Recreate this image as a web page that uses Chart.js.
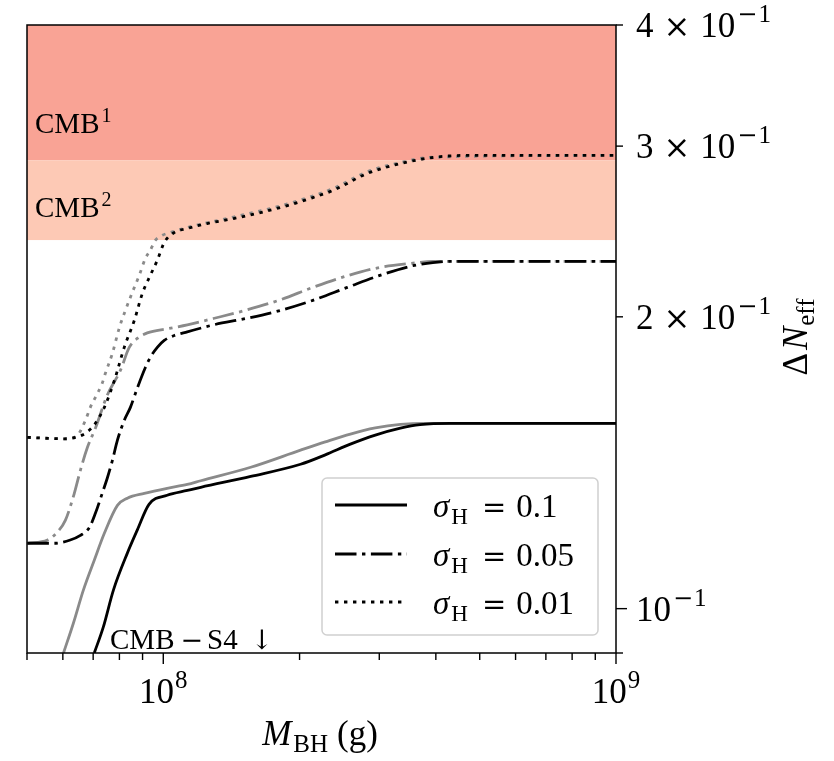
<!DOCTYPE html>
<html>
<head>
<meta charset="utf-8">
<script src="https://cdn.jsdelivr.net/npm/chart.js@4.4.0/dist/chart.umd.min.js"></script>
<style>
  html, body { margin: 0; padding: 0; background: #ffffff; }
  canvas { display: block; }
</style>
</head>
<body>
<canvas id="chart" width="834" height="761"></canvas>
<script>
// ΔN_eff as a function of the black-hole mass M_BH (grams), three widths σ_H.
// "dark" curves are drawn in black, "light" curves in gray.

// σ_H = 0.1 (solid)
const massSolidDark  = [7.04e7, 7.37e7, 7.76e7, 8.33e7, 8.76e7, 9.3e7, 1.02e8, 1.13e8, 1.21e8, 1.56e8, 2.01e8, 2.28e8, 2.59e8, 2.94e8, 3.34e8, 3.69e8, 4.3e8, 1e9];
const dNeffSolidDark = [0.0900, 0.0957, 0.1045, 0.1141, 0.1205, 0.1281, 0.1309, 0.1324, 0.1334, 0.1369, 0.1409, 0.1441, 0.1478, 0.1510, 0.1535, 0.1548, 0.1553, 0.1553];
const massSolidLight  = [6.02e7, 6.33e7, 6.66e7, 7.04e7, 7.41e7, 7.92e7, 8.33e7, 9.08e7, 1.02e8, 1.13e8, 1.21e8, 1.56e8, 2.01e8, 2.28e8, 2.59e8, 2.94e8, 3.34e8, 3.8e8, 1e9];
const dNeffSolidLight = [0.0900, 0.0966, 0.1045, 0.1122, 0.1196, 0.1278, 0.1300, 0.1315, 0.1331, 0.1343, 0.1355, 0.1399, 0.1457, 0.1486, 0.1514, 0.1536, 0.1549, 0.1553, 0.1553];

// σ_H = 0.05 (dash-dot)
const massDashDotDark  = [5.01e7, 5.74e7, 6.23e7, 6.56e7, 6.87e7, 7.08e7, 7.33e7, 7.52e7, 7.72e7, 7.92e7, 8.2e7, 8.46e7, 8.76e7, 9.13e7, 9.36e7, 9.7e7, 1.005e8, 1.057e8, 1.13e8, 1.29e8, 1.53e8, 1.81e8, 2.14e8, 2.55e8, 3.01e8, 3.56e8, 3.94e8, 4.4e8, 1e9];
const dNeffDashDotDark = [0.1168, 0.1168, 0.1177, 0.1190, 0.1213, 0.1254, 0.1315, 0.1363, 0.1422, 0.1492, 0.1564, 0.1613, 0.1688, 0.1773, 0.1816, 0.1860, 0.1891, 0.1913, 0.1930, 0.1962, 0.1993, 0.2030, 0.2080, 0.2145, 0.2207, 0.2258, 0.2275, 0.2282, 0.2282];
const massDashDotLight  = [5.01e7, 5.55e7, 5.83e7, 6.08e7, 6.36e7, 6.56e7, 6.8e7, 7.08e7, 7.52e7, 8.04e7, 8.41e7, 8.76e7, 9.22e7, 1.02e8, 1.13e8, 1.29e8, 1.53e8, 1.81e8, 2.14e8, 2.55e8, 3.01e8, 3.56e8, 3.94e8, 1e9];
const dNeffDashDotLight = [0.1168, 0.1177, 0.1199, 0.1234, 0.1315, 0.1389, 0.1467, 0.1535, 0.1660, 0.1761, 0.1860, 0.1900, 0.1925, 0.1944, 0.1962, 0.1992, 0.2033, 0.2082, 0.2145, 0.2205, 0.2249, 0.2272, 0.2282, 0.2282];

// σ_H = 0.01 (dotted)
const massDottedDark  = [5.01e7, 6.05e7, 6.62e7, 6.9e7, 7.08e7, 7.41e7, 7.8e7, 8.2e7, 8.63e7, 8.99e7, 9.36e7, 9.7e7, 1.005e8, 1.057e8, 1.13e8, 1.25e8, 1.43e8, 1.64e8, 1.88e8, 2.14e8, 2.37e8, 2.82e8, 3.34e8, 3.94e8, 4.69e8, 1e9];
const dNeffDottedDark = [0.1502, 0.1497, 0.1510, 0.1531, 0.1553, 0.1613, 0.1720, 0.1860, 0.1983, 0.2114, 0.2207, 0.2287, 0.2386, 0.2443, 0.2467, 0.2496, 0.2526, 0.2562, 0.2605, 0.2655, 0.2700, 0.2811, 0.2878, 0.2920, 0.2935, 0.2935];
const massDottedLight  = [5.01e7, 6.05e7, 6.46e7, 6.73e7, 6.9e7, 7.08e7, 7.33e7, 7.45e7, 7.72e7, 8.0e7, 8.25e7, 8.54e7, 8.85e7, 9.13e7, 9.36e7, 9.6e7, 9.95e7, 1.036e8, 1.13e8, 1.43e8, 1.88e8, 2.37e8, 2.82e8, 3.34e8, 3.94e8, 1e9];
const dNeffDottedLight = [0.1502, 0.1497, 0.1510, 0.1564, 0.1613, 0.1652, 0.1708, 0.1749, 0.1834, 0.1950, 0.2031, 0.2119, 0.2207, 0.2298, 0.2342, 0.2398, 0.2427, 0.2443, 0.2473, 0.2535, 0.2615, 0.2712, 0.2822, 0.2885, 0.2922, 0.2935];

// Excluded regions (ΔN_eff ranges)
const bandCMB1 = [0.29, 0.4];
const bandCMB2 = [0.24, 0.29];

// Axis ranges and ticks
const massRange = [5e7, 1e9];
const dNeffRange = [0.09, 0.4];
const xMajorTicks = [1e8, 1e9];
const xMajorExponents = ['8', '9'];
const xMinorTicks = [5e7, 6e7, 7e7, 8e7, 9e7, 2e8, 3e8, 4e8, 5e8, 6e8, 7e8, 8e8, 9e8];
const yTickValues = [0.4, 0.3, 0.2, 0.1];
const yTickMantissas = ['4', '3', '2', ''];
const yTickMajor = [false, false, false, true];
const yMinorUnlabeled = [0.09];

// Legend entries
const legendSigmas = ['0.1', '0.05', '0.01'];

const SERIF = '"Liberation Serif", "DejaVu Serif", serif';
const OPS = '"DejaVu Serif", "Liberation Serif", serif';   // wider math operators
const DARK = '#000000';
const LIGHT = '#8a8a8a';
const LW = 2.8;
const DASH_DOT = [21.5, 5.5, 3.4, 5.5];
const DOTTED = [3.4, 5.6];
const STYLES = [[], DASH_DOT, DOTTED];

function pts(xs, ys) { return xs.map((x, i) => ({ x: x, y: ys[i] })); }

function lineSet(label, xs, ys, color, dash) {
  return {
    label: label,
    data: pts(xs, ys),
    showLine: true,
    borderColor: color,
    backgroundColor: color,
    borderWidth: LW,
    borderDash: dash,
    borderCapStyle: 'butt',
    borderJoinStyle: 'round',
    pointRadius: 0,
    cubicInterpolationMode: 'monotone',
    fill: false,
    clip: 0
  };
}

function fontOf(p) {
  return (p.italic ? 'italic ' : '') + p.size + 'px ' + (p.family || SERIF);
}

// draws a sequence of text runs (for sub/superscripts) on one baseline;
// l / r add space before / after a run
function drawRich(ctx, parts, x, y, align) {
  ctx.textBaseline = 'alphabetic';
  ctx.textAlign = 'left';
  const widths = parts.map(p => { ctx.font = fontOf(p); return (p.l || 0) + ctx.measureText(p.t).width + (p.r || 0); });
  const total = widths.reduce((a, b) => a + b, 0);
  let cx = align === 'center' ? x - total / 2 : (align === 'right' ? x - total : x);
  parts.forEach((p, i) => {
    ctx.font = fontOf(p);
    ctx.fillText(p.t, cx + (p.l || 0), y - (p.rise || 0));
    cx += widths[i];
  });
}

const BIG = 35, SMALL = 25, LBL = 29, LBLSUP = 20;

const bandsPlugin = {
  id: 'bands',
  beforeDatasetsDraw(chart) {
    const { ctx, chartArea: a, scales: { y } } = chart;
    ctx.save();
    ctx.beginPath();
    ctx.rect(a.left, a.top, a.right - a.left, a.bottom - a.top);
    ctx.clip();
    const fillBand = (band, color) => {
      const yTop = y.getPixelForValue(band[1]);
      const yBot = y.getPixelForValue(band[0]);
      ctx.fillStyle = color;
      ctx.fillRect(a.left, yTop, a.right - a.left, yBot - yTop);
    };
    fillBand(bandCMB1, 'rgb(249,163,149)');
    fillBand(bandCMB2, 'rgb(253,201,181)');
    ctx.restore();
  }
};

function powerLabel(mantissa) {
  const parts = [];
  if (mantissa) {
    parts.push({ t: mantissa, size: BIG });
    parts.push({ t: '\u00D7', size: 32, family: OPS, l: 10, r: 10 });
  }
  parts.push({ t: '10', size: BIG });
  parts.push({ t: '\u2212', size: 24, family: OPS, rise: 15, l: 2, r: 1 });
  parts.push({ t: '1', size: SMALL, rise: 15 });
  return parts;
}

const decorPlugin = {
  id: 'decor',
  afterDraw(chart) {
    const { ctx, chartArea: a, scales: { x, y } } = chart;
    ctx.save();
    ctx.fillStyle = '#000';

    // region labels
    drawRich(ctx, [{ t: 'CMB', size: LBL }, { t: '1', size: LBLSUP, rise: 11, l: 2 }], a.left + 8, y.getPixelForValue(0.3095), 'left');
    drawRich(ctx, [{ t: 'CMB', size: LBL }, { t: '2', size: LBLSUP, rise: 11, l: 2 }], a.left + 8, y.getPixelForValue(0.2535), 'left');
    drawRich(ctx, [
      { t: 'CMB', size: LBL, r: 6 },
      { t: '\u2212', size: 27, family: OPS, r: 4 },
      { t: 'S4', size: LBL, r: 13 },
      { t: '\u2193', size: 27, family: OPS }
    ], 110, a.bottom - 4, 'left');

    // frame
    ctx.strokeStyle = '#000';
    ctx.lineWidth = 1.5;
    ctx.strokeRect(a.left, a.top, a.right - a.left, a.bottom - a.top);

    // x ticks (outward, bottom)
    ctx.lineWidth = 1.4;
    const tickX = (v, len) => {
      const px = x.getPixelForValue(v);
      ctx.beginPath(); ctx.moveTo(px, a.bottom); ctx.lineTo(px, a.bottom + len); ctx.stroke();
    };
    xMinorTicks.forEach(v => tickX(v, 7));
    xMajorTicks.forEach(v => tickX(v, 11));
    // y ticks (outward, right)
    const tickY = (v, len) => {
      const py = y.getPixelForValue(v);
      ctx.beginPath(); ctx.moveTo(a.right, py); ctx.lineTo(a.right + len, py); ctx.stroke();
    };
    yTickValues.forEach((v, i) => tickY(v, yTickMajor[i] ? 11 : 7));
    yMinorUnlabeled.forEach(v => tickY(v, 7));

    // x tick labels
    xMajorTicks.forEach((v, i) => {
      drawRich(ctx, [{ t: '10', size: BIG }, { t: xMajorExponents[i], size: SMALL, rise: 15, l: 1 }], x.getPixelForValue(v), 703, 'center');
    });
    // y tick labels
    yTickValues.forEach((v, i) => {
      drawRich(ctx, powerLabel(yTickMantissas[i]), a.right + 20, y.getPixelForValue(v) + 12, 'left');
    });

    // axis titles
    drawRich(ctx, [
      { t: 'M', size: 35, italic: true, r: 2 },
      { t: 'BH', size: SMALL, rise: -7, r: 9 },
      { t: '(g)', size: 35 }
    ], 320, 745, 'center');
    ctx.save();
    ctx.translate(807, 337);
    ctx.rotate(-Math.PI / 2);
    drawRich(ctx, [
      { t: '\u0394', size: 35, r: 3 },
      { t: 'N', size: 35, italic: true, r: 1 },
      { t: 'eff', size: SMALL, rise: -7 }
    ], 0, 0, 'center');
    ctx.restore();

    // legend
    const lx = 322, ly = 478, lw = 276, lh = 157;
    ctx.beginPath();
    ctx.roundRect(lx, ly, lw, lh, 5);
    ctx.fillStyle = 'rgba(255,255,255,0.85)';
    ctx.fill();
    ctx.strokeStyle = '#d0d0d0';
    ctx.lineWidth = 1.5;
    ctx.stroke();
    const rows = [505, 554, 602];
    legendSigmas.forEach((s, i) => {
      ctx.strokeStyle = DARK;
      ctx.lineWidth = LW;
      ctx.lineCap = 'butt';
      ctx.setLineDash(STYLES[i]);
      ctx.beginPath(); ctx.moveTo(335, rows[i]); ctx.lineTo(407, rows[i]); ctx.stroke();
      ctx.setLineDash([]);
      ctx.fillStyle = '#000';
      drawRich(ctx, [
        { t: '\u03C3', size: 33, italic: true },
        { t: 'H', size: 23, rise: -7, l: 2, r: 14 },
        { t: '=', size: 29, family: OPS, r: 10 },
        { t: s, size: 33 }
      ], 433, rows[i] + 12, 'left');
    });
    ctx.restore();
  }
};

new Chart(document.getElementById('chart'), {
  type: 'scatter',
  data: {
    datasets: [
      lineSet('σH = 0.1', massSolidDark, dNeffSolidDark, DARK, []),
      lineSet('σH = 0.05', massDashDotDark, dNeffDashDotDark, DARK, DASH_DOT),
      lineSet('σH = 0.01', massDottedDark, dNeffDottedDark, DARK, DOTTED),
      lineSet('σH = 0.1 (gray)', massSolidLight, dNeffSolidLight, LIGHT, []),
      lineSet('σH = 0.05 (gray)', massDashDotLight, dNeffDashDotLight, LIGHT, DASH_DOT),
      lineSet('σH = 0.01 (gray)', massDottedLight, dNeffDottedLight, LIGHT, DOTTED)
    ]
  },
  options: {
    responsive: false,
    animation: false,
    devicePixelRatio: 1,
    layout: { padding: { left: 27, top: 25, right: 218, bottom: 108 } },
    scales: {
      x: { type: 'logarithmic', min: massRange[0], max: massRange[1], display: false },
      y: { type: 'logarithmic', min: dNeffRange[0], max: dNeffRange[1], display: false, position: 'right' }
    },
    plugins: {
      legend: { display: false },
      tooltip: { enabled: false }
    }
  },
  plugins: [bandsPlugin, decorPlugin]
});
</script>
</body>
</html>
